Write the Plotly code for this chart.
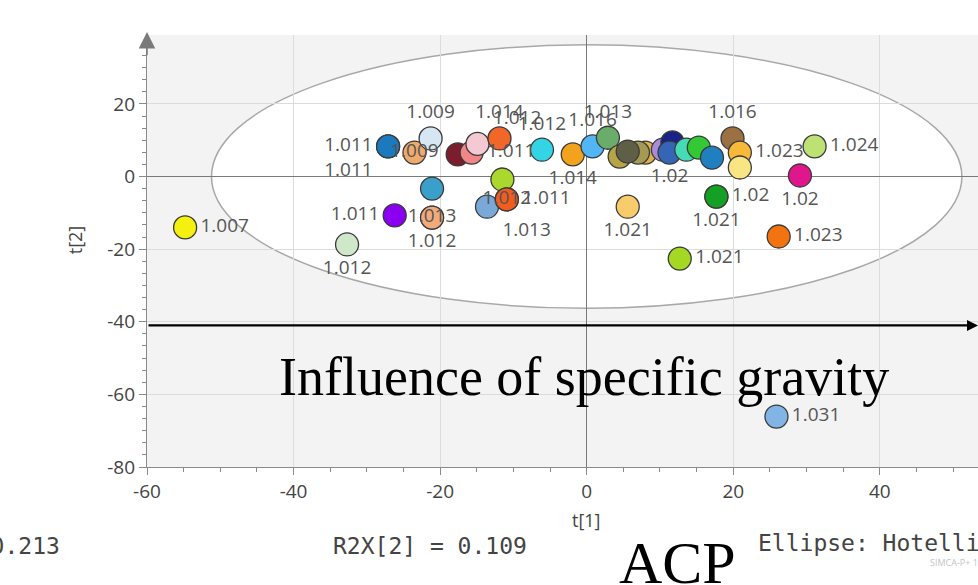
import plotly.graph_objects as go

# ---- data (scores t[1], t[2]) and sample labels (specific gravity) ----
t1 = [-54.8, -32.7, -26.2, -21.1, -21.1, -21.1, -27.1, -27.1, -23.5, -21.3, -17.6,
      -15.7, -14.9, -11.9, -6.1, -11.5, -13.6, -10.9, -10.9, -1.9, 0.8,
      2.9, 8.0, 7.0, 4.5, 5.6, 10.4, 11.7, 11.3, 13.6, 15.3,
      17.1, 19.9, 20.9, 20.9, 17.7, 17.7, 5.6, 12.7, 29.1, 31.1,
      26.2, 25.9]
t2 = [-14.0, -18.7, -10.7, -11.3, -11.3, -3.3, 8.3, 8.3, 6.6, 10.5, 6.1,
      6.6, 9.0, 10.5, 7.4, -0.8, -8.3, -6.3, -6.3, 6.1, 8.3,
      10.7, 6.6, 6.6, 5.5, 6.9, 7.4, 9.4, 6.6, 7.4, 8.0,
      5.2, 10.5, 6.6, 2.5, -5.5, -5.5, -8.3, -22.6, 0.3, 8.3,
      -16.5, -66.1]
labels = ["1.007", "1.012", "1.011", "1.012", "1.013", "", "1.011", "1.011", "1.009", "1.009", "",
          "1.011", "1.012", "1.014", "1.012", "", "1.013", "1.012", "1.011", "1.014", "1.016",
          "1.013", "", "", "", "", "", "", "1.02", "", "",
          "", "1.016", "1.023", "", "1.021", "1.02", "1.021", "1.021", "1.02", "1.024",
          "1.023", "1.031"]

x_tickvals = [-60, -40, -20, 0, 20, 40]
x_ticktext = ["-60", "-40", "-20", "0", "20", "40"]
y_tickvals = [-80, -60, -40, -20, 0, 20]
y_ticktext = ["-80", "-60", "-40", "-20", "0", "20"]

# ---- styles ----
colors = ["#f5f00f", "#cfe8c9", "#8b00f0", "#f2aa7a", "#f2aa7a", "#3a9fcb", "#1b79bd", "#1b79bd", "#f0aa6c", "#d6e7f3", "#7b1d2d",
          "#f28585", "#f4c9d3", "#f2662a", "#33d5e5", "#aad82c", "#7aa9d9", "#f25c1f", "#f25c1f", "#f2a21c", "#52b6f4",
          "#6aac6a", "#dcb24a", "#a49a52", "#b5a545", "#5f5f47", "#a98bd8", "#1a2288", "#3566b5", "#45dcb5", "#33c935",
          "#1f7fbf", "#9b7142", "#f8b93a", "#f9e584", "#14a024", "#14a024", "#f8cc6a", "#a5d823", "#e0168c", "#bde273",
          "#f2730f", "#82b5e6"]
textpos = ["middle right", "bottom center", "middle left", "bottom center", "middle center", "top left", "bottom left", "middle left", "middle center", "top center", "middle right",
           "middle right", "top right", "top center", "top center", "middle right", "bottom right", "middle center", "middle right", "bottom center", "top center",
           "top center", "middle right", "middle right", "middle right", "middle right", "middle right", "middle right", "bottom center", "middle right", "middle right",
           "middle right", "top center", "middle right", "middle right", "bottom center", "middle right", "bottom center", "middle right", "bottom center", "middle right",
           "middle right", "middle right"]

XR = [-60, 53.4]
YR = [-80, 39]

fig = go.Figure()
fig.add_trace(go.Scatter(
    x=t1, y=t2, mode="markers+text", text=labels, textposition=textpos,
    marker=dict(size=23, color=colors, line=dict(color="#3a3a3a", width=1.3)),
    textfont=dict(family="Open Sans", size=19, color="#555555"),
    cliponaxis=False, hoverinfo="skip", showlegend=False))

# Hotelling T2 ellipse
fig.add_shape(type="circle", xref="x", yref="y", x0=-51.2, x1=51.2, y0=-36.3, y1=36.3,
              fillcolor="white", line=dict(color="#a8a8a8", width=1.5), layer="below")

axis_common = dict(showgrid=True, gridcolor="#dcdcdc", gridwidth=1,
                   zeroline=True, zerolinecolor="#7a7a7a", zerolinewidth=1.3,
                   showline=True, linecolor="#8a8a8a", linewidth=1.3,
                   ticks="outside", ticklen=7, tickcolor="#8a8a8a",
                   tickfont=dict(family="Open Sans", size=19, color="#444444"))
fig.update_xaxes(range=XR, tickmode="array", tickvals=x_tickvals, ticktext=x_ticktext, fixedrange=True,
                 minor=dict(dtick=5, tick0=0, ticks="outside", ticklen=4, tickcolor="#8a8a8a", showgrid=False),
                 **axis_common)
fig.update_yaxes(range=YR, tickmode="array", tickvals=y_tickvals, ticktext=y_ticktext, fixedrange=True,
                 minor=dict(dtick=20 / 6, tick0=0, ticks="outside", ticklen=4, tickcolor="#8a8a8a", showgrid=False),
                 **axis_common)

ann = []
# y axis arrow head
ann.append(dict(x=XR[0], y=39.8, ax=XR[0], ay=33, xref="x", yref="y", axref="x", ayref="y",
                showarrow=True, arrowhead=2, arrowsize=2.2, arrowwidth=1.5, arrowcolor="#7a7a7a", text=""))
# black arrow line
ann.append(dict(x=XR[1], y=-41, ax=XR[0], ay=-41, xref="x", yref="y", axref="x", ayref="y",
                showarrow=True, arrowhead=2, arrowsize=1, arrowwidth=2.2, arrowcolor="black", text="",
                standoff=0, startstandoff=0))
ann.append(dict(x=0.526, y=0.208, xref="paper", yref="paper", text="Influence of specific gravity",
                showarrow=False, font=dict(family="Liberation Serif", size=54, color="black"),
                xanchor="center", yanchor="middle"))
ann.append(dict(x=0, y=-0.123, xref="x", yref="paper", text="t[1]", showarrow=False,
                font=dict(family="Open Sans", size=18, color="#444444"), xanchor="center", yanchor="middle"))
ann.append(dict(x=-0.0866, y=0.525, xref="paper", yref="paper", text="t[2]", showarrow=False, textangle=-90,
                font=dict(family="Open Sans", size=18, color="#444444"), xanchor="center", yanchor="middle"))
mono = dict(family="DejaVu Sans Mono", size=23, color="#444444")
ann.append(dict(x=-0.1023, y=-0.183, xref="paper", yref="paper", text="R2X[1] = 0.213", showarrow=False,
                font=mono, xanchor="right", yanchor="middle"))
ann.append(dict(x=0.2214, y=-0.183, xref="paper", yref="paper", text="R2X[2] = 0.109", showarrow=False,
                font=mono, xanchor="left", yanchor="middle"))
ann.append(dict(x=0.733, y=-0.176, xref="paper", yref="paper", text="Ellipse: Hotelling's T2 (95%)", showarrow=False,
                font=mono, xanchor="left", yanchor="middle"))
ann.append(dict(x=0.94, y=-0.222, xref="paper", yref="paper", text="SIMCA-P+ 12", showarrow=False,
                font=dict(family="Open Sans", size=9, color="#c4c4c4"), xanchor="left", yanchor="middle"))
ann.append(dict(x=0.638, y=-0.222, xref="paper", yref="paper", text="ACP", showarrow=False,
                font=dict(family="Liberation Serif", size=60, color="black"), xanchor="center", yanchor="middle"))

fig.update_layout(width=978, height=585, autosize=False,
                  margin=dict(l=147, r=0, t=35, b=118),
                  plot_bgcolor="#f3f3f3", paper_bgcolor="white",
                  annotations=ann, showlegend=False)

fig.write_html("out.html", config={"displayModeBar": False},
               post_script="document.body.style.margin='0px';")
